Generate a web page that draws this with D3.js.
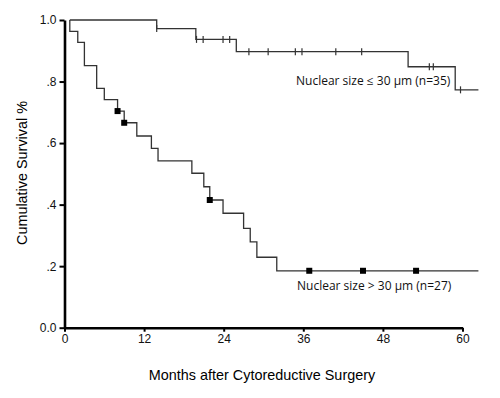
<!DOCTYPE html>
<html>
<head>
<meta charset="utf-8">
<script src="https://cdn.jsdelivr.net/npm/d3@7"></script>
<style>
  body { margin: 0; background: #fff; }
  svg { display: block; }
  .axis text { font-family: Arial, "Liberation Sans", sans-serif; font-size: 12px; fill: #111; }
  .axis .domain { stroke: #000; stroke-width: 2.6px; }
  .axis .tick line { stroke: #000; stroke-width: 2px; }
</style>
</head>
<body>
<svg id="km" width="500" height="398"></svg>
<script>
// survival steps (months, cumulative survival after the step)
var smallTimes = [0.8, 13.9, 19.8, 25.9, 51.8, 58.9, 62.4];
var smallSurv  = [1.0, 0.972, 0.937, 0.897, 0.848, 0.773, 0.773];
var smallCensorTimes = [13.9, 19.9, 20.9, 23.9, 24.9, 27.8, 30.7, 34.8, 35.8, 40.9, 44.8, 55.0, 55.6, 59.7];

var largeTimes = [0.8, 0.8, 2.0, 3.0, 4.85, 6.0, 8.0, 9.0, 10.9, 13.1, 14.1, 19.2, 21.0, 21.9, 23.9, 27.0, 28.0, 29.0, 32.0, 62.4];
var largeSurv  = [1.0, 0.963, 0.927, 0.852, 0.778, 0.741, 0.704, 0.666, 0.623, 0.583, 0.542, 0.502, 0.458, 0.415, 0.372, 0.323, 0.279, 0.229, 0.185, 0.185];
var largeCensorTimes = [8.0, 9.0, 21.9, 36.9, 45.0, 53.0];

var xTicks = [0, 12, 24, 36, 48, 60];
var yTicks = [0, 0.2, 0.4, 0.6, 0.8, 1.0];
var yTickLabels = ["0.0", ".2", ".4", ".6", ".8", "1.0"];

var labelSmall = "Nuclear size \u2264 30 \u03bcm (n=35)";
var labelLarge = "Nuclear size > 30 \u03bcm (n=27)";

function drawKM() {
  var svg = d3.select("#km");

  var x = d3.scaleLinear().domain([0, 60]).range([64.5, 462.5]);
  var y = d3.scaleLinear().domain([0, 1]).range([327.7, 20]);

  // value of a step curve at time t
  function survAt(times, surv, t) {
    var s = surv[0];
    for (var i = 0; i < times.length; i++) {
      if (times[i] <= t) s = surv[i];
    }
    return s;
  }

  var line = d3.line()
               .x(d => x(d[0]))
               .y(d => y(d[1]))
               .curve(d3.curveStepAfter);

  var small = smallTimes.map((t, i) => [t, smallSurv[i]]);
  var large = largeTimes.map((t, i) => [t, largeSurv[i]]);

  svg.append("path")
      .attr("d", line(small))
      .attr("fill", "none")
      .attr("stroke", "#333")
      .attr("stroke-width", 1.3);

  svg.append("path")
      .attr("d", line(large))
      .attr("fill", "none")
      .attr("stroke", "#333")
      .attr("stroke-width", 1.3);

  // censor ticks on the small-nuclei curve
  svg.selectAll(".cens-small")
      .data(smallCensorTimes)
    .enter()
      .append("line")
      .classed("cens-small", true)
      .attr("x1", d => x(d))
      .attr("x2", d => x(d))
      .attr("y1", d => y(survAt(smallTimes, smallSurv, d)) - 3.5)
      .attr("y2", d => y(survAt(smallTimes, smallSurv, d)) + 3.5)
      .attr("stroke", "#333")
      .attr("stroke-width", 1.2);

  // censor squares on the large-nuclei curve
  svg.selectAll(".cens-large")
      .data(largeCensorTimes)
    .enter()
      .append("rect")
      .classed("cens-large", true)
      .attr("x", d => x(d) - 3)
      .attr("y", d => y(survAt(largeTimes, largeSurv, d)) - 3)
      .attr("width", 6)
      .attr("height", 6)
      .attr("fill", "#000");

  // axes
  var yAxis = d3.axisLeft(y)
                .tickValues(yTicks)
                .tickFormat((d, i) => yTickLabels[i])
                .tickSize(5)
                .tickSizeOuter(0)
                .tickPadding(3);

  svg.append("g")
      .classed("axis", true)
      .attr("transform", "translate(" + x(0) + ",0)")
      .call(yAxis);

  var xAxis = d3.axisBottom(x)
                .tickValues(xTicks)
                .tickFormat(d3.format("d"))
                .tickSize(4)
                .tickSizeOuter(0)
                .tickPadding(3);

  svg.append("g")
      .classed("axis", true)
      .attr("transform", "translate(0," + y(0) + ")")
      .call(xAxis);

  // titles
  svg.append("text")
      .attr("x", 262)
      .attr("y", 380)
      .attr("font-family", "Arial, 'Liberation Sans', sans-serif")
      .attr("font-size", "14.4px")
      .style("text-anchor", "middle")
      .text("Months after Cytoreductive Surgery");

  svg.append("text")
      .attr("transform", "translate(27,173) rotate(-90)")
      .attr("font-family", "Arial, 'Liberation Sans', sans-serif")
      .attr("font-size", "14.4px")
      .style("text-anchor", "middle")
      .text("Cumulative Survival %");

  // curve labels
  svg.append("text")
      .attr("x", 296)
      .attr("y", 85)
      .attr("font-family", "'Open Sans', sans-serif")
      .attr("font-size", "12px")
      .attr("fill", "#111")
      .text(labelSmall);

  svg.append("text")
      .attr("x", 297)
      .attr("y", 290)
      .attr("font-family", "'Open Sans', sans-serif")
      .attr("font-size", "12px")
      .attr("fill", "#111")
      .text(labelLarge);
}

drawKM();
</script>
</body>
</html>
